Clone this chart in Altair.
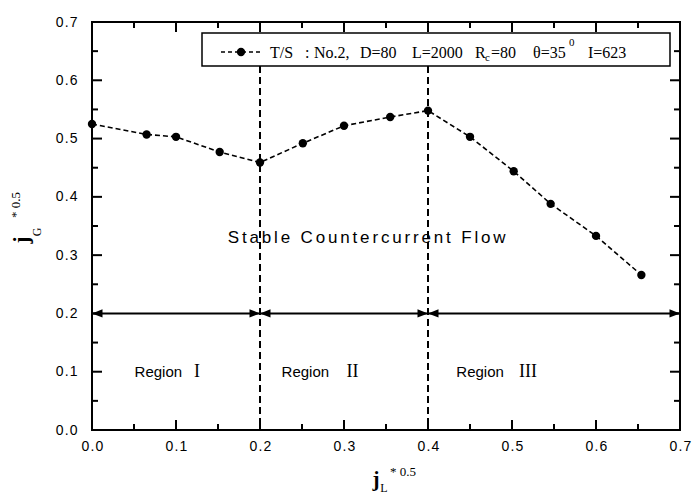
import altair as alt
import pandas as pd

# Measured flooding points: dimensionless liquid vs gas velocity
jl = [0.0, 0.065, 0.1, 0.152, 0.2, 0.251, 0.3, 0.355, 0.4, 0.45, 0.502, 0.546, 0.6, 0.654]
jg = [0.525, 0.507, 0.503, 0.477, 0.459, 0.492, 0.522, 0.537, 0.548, 0.503, 0.444, 0.388, 0.333, 0.266]

# Region boundaries and the double arrows at jG = 0.2
boundaries = [0.2, 0.4]
arrow_start = [0.0, 0.2, 0.4]
arrow_end = [0.2, 0.4, 0.7]
arrow_level = 0.2

region_word_x = [0.079, 0.254, 0.462]
region_num_x = [0.125, 0.31, 0.519]
region_num = ["I", "II", "III"]
region_level = 0.1

major_ticks = [0.0, 0.1, 0.2, 0.3, 0.4, 0.5, 0.6, 0.7]
minor_ticks = [0.05, 0.15, 0.25, 0.35, 0.45, 0.55, 0.65]

W, H = 588, 408
SANS = "Liberation Sans"
SERIF = "Liberation Serif"
HAIR = "\u200a"

xs = alt.Scale(domain=[0, 0.7], nice=False, zero=False)
ys = alt.Scale(domain=[0, 0.7], nice=False, zero=False)

pts = pd.DataFrame({"jl": jl, "jg": jg})

# tick labels drawn slightly letter-spaced
spaced = f"join(split(format(datum.value, '.1f'), ''), '{HAIR}')"

xaxis = alt.Axis(values=major_ticks, labelExpr=spaced, ticks=False, domain=False, grid=False,
                 labelFont=SANS, labelFontSize=14, labelColor="black", labelPadding=9,
                 labelFlush=False, title=None)
yaxis = alt.Axis(values=major_ticks, labelExpr=spaced, ticks=False, domain=False, grid=False,
                 labelFont=SANS, labelFontSize=14, labelColor="black", labelPadding=15,
                 labelFlush=False, title=None)

line = alt.Chart(pts).mark_line(color="black", strokeWidth=1.6, strokeDash=[5, 3]).encode(
    x=alt.X("jl:Q", scale=xs, axis=xaxis),
    y=alt.Y("jg:Q", scale=ys, axis=yaxis),
)
dots = alt.Chart(pts).mark_circle(color="black", size=70, opacity=1).encode(
    x="jl:Q", y="jg:Q"
)

vlines = alt.Chart(pd.DataFrame({"x": boundaries})).mark_rule(
    color="black", strokeWidth=2, strokeDash=[7, 4]
).encode(x="x:Q", y=alt.value(0), y2=alt.value(H))

arr = pd.DataFrame({"x0": arrow_start, "x1": arrow_end, "y": [arrow_level] * 3})
arrows = alt.Chart(arr).mark_rule(color="black", strokeWidth=2).encode(
    x="x0:Q", x2="x1:Q", y="y:Q"
)
left_head = alt.Chart(arr).mark_point(
    shape="M0,0L2,-0.8L2,0.8Z", filled=True, color="black", size=110, opacity=1
).encode(x="x0:Q", y="y:Q")
right_head = alt.Chart(arr).mark_point(
    shape="M0,0L-2,-0.8L-2,0.8Z", filled=True, color="black", size=110, opacity=1
).encode(x="x1:Q", y="y:Q")

reg = pd.DataFrame({"wx": region_word_x, "nx": region_num_x, "num": region_num,
                    "y": [region_level] * 3, "word": ["Region"] * 3})
reg_word = alt.Chart(reg).mark_text(font=SANS, fontSize=15, color="black").encode(
    x="wx:Q", y="y:Q", text="word:N"
)
reg_num = alt.Chart(reg).mark_text(font=SERIF, fontSize=18, color="black").encode(
    x="nx:Q", y="y:Q", text="num:N"
)

stable = alt.Chart(pd.DataFrame({"x": [0.327], "y": [0.33],
                                 "t": [(HAIR * 2).join("Stable Countercurrent Flow")]})).mark_text(
    font=SANS, fontSize=17, color="black"
).encode(x="x:Q", y="y:Q", text="t:N")

# Inward-pointing ticks on all four sides of the frame
maj = pd.DataFrame({"v": major_ticks})
mnr = pd.DataFrame({"w": minor_ticks})
ticks = []
for df, f, n in ((maj, "v", 10), (mnr, "w", 6)):
    half = n / 2
    ticks += [
        alt.Chart(df).mark_tick(color="black", thickness=2, size=n, orient="vertical",
                                yOffset=-half, opacity=1).encode(x=f"{f}:Q", y=alt.value(H)),
        alt.Chart(df).mark_tick(color="black", thickness=2, size=n, orient="vertical",
                                yOffset=half, opacity=1).encode(x=f"{f}:Q", y=alt.value(0)),
        alt.Chart(df).mark_tick(color="black", thickness=2, size=n, orient="horizontal",
                                xOffset=half, opacity=1).encode(y=f"{f}:Q", x=alt.value(0)),
        alt.Chart(df).mark_tick(color="black", thickness=2, size=n, orient="horizontal",
                                xOffset=-half, opacity=1).encode(y=f"{f}:Q", x=alt.value(W)),
    ]

# Legend box
one = pd.DataFrame({"k": [0]})
leg_box = alt.Chart(one).mark_rect(fill="white", stroke="black", strokeWidth=1.5).encode(
    x=alt.value(110), x2=alt.value(578), y=alt.value(11), y2=alt.value(44)
)
leg_line = alt.Chart(one).mark_rule(color="black", strokeWidth=1.6, strokeDash=[4, 3]).encode(
    x=alt.value(129), x2=alt.value(170), y=alt.value(30)
)
leg_dot = alt.Chart(one).mark_circle(color="black", size=70, opacity=1).encode(
    x=alt.value(149), y=alt.value(30)
)

legend_parts = [
    ("T/S", 178, 31, 16), (":", 213, 31, 16), ("No.2,", 222, 31, 16),
    ("D=80", 268, 31, 16), ("L=2000", 320, 31, 16), ("R", 383, 31, 16),
    ("c", 393, 36, 11), ("=80", 399, 31, 16), ("\u03b8=35", 441, 31, 16),
    ("0", 477, 21, 11), ("I=623", 496, 31, 16),
]
leg_text = [
    alt.Chart(one).mark_text(text=t, font=SERIF, fontSize=s, align="left",
                             baseline="middle", color="black").encode(
        x=alt.value(px), y=alt.value(py))
    for t, px, py, s in legend_parts
]

# Axis titles: j*_L^0.5 and j*_G^0.5 built from pieces
x_title = [
    alt.Chart(one).mark_text(text="j", font=SERIF, fontSize=21, fontWeight="bold",
                             baseline="middle", color="black").encode(
        x=alt.value(284), y=alt.value(458)),
    alt.Chart(one).mark_text(text="L", font=SERIF, fontSize=12,
                             baseline="middle", color="black").encode(
        x=alt.value(292), y=alt.value(466)),
    alt.Chart(one).mark_text(text="* 0.5", font=SERIF, fontSize=13,
                             baseline="middle", color="black").encode(
        x=alt.value(311), y=alt.value(450)),
]
y_title = [
    alt.Chart(one).mark_text(text="j", font=SERIF, fontSize=21, fontWeight="bold", angle=270,
                             baseline="middle", color="black").encode(
        x=alt.value(-70), y=alt.value(218)),
    alt.Chart(one).mark_text(text="G", font=SERIF, fontSize=12, angle=270,
                             baseline="middle", color="black").encode(
        x=alt.value(-55), y=alt.value(210)),
    alt.Chart(one).mark_text(text="* 0.5", font=SERIF, fontSize=13, angle=270,
                             baseline="middle", color="black").encode(
        x=alt.value(-76), y=alt.value(183)),
]

chart = alt.layer(
    line, vlines, arrows, left_head, right_head, dots,
    reg_word, reg_num, stable,
    leg_box, leg_line, leg_dot, *leg_text, *x_title, *y_title, *ticks,
).properties(
    width=W, height=H,
    autosize=alt.AutoSizeParams(type="none"),
    padding={"left": 92, "top": 22, "right": 14, "bottom": 64},
    background="white",
).configure_view(stroke="black", strokeWidth=2)

chart.save("out.html", embed_options={"renderer": "svg", "actions": False})
